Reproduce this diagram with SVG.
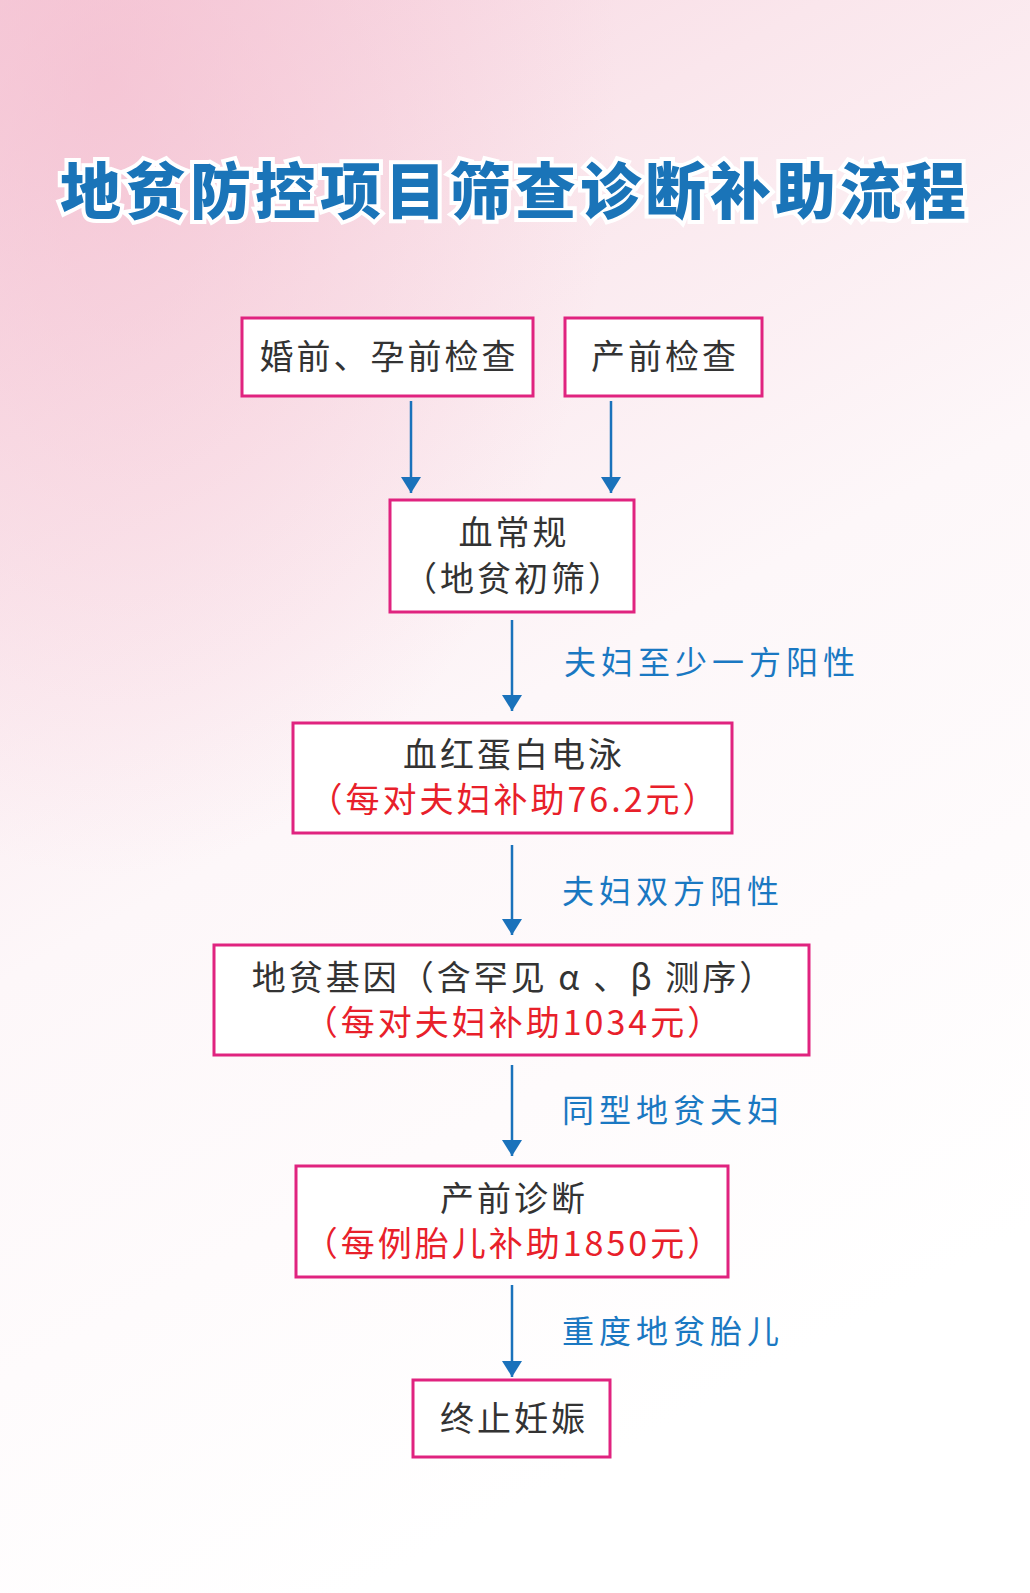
<svg xmlns="http://www.w3.org/2000/svg" width="1030" height="1593" viewBox="0 0 1030 1593">
<defs>
<linearGradient id="bg" x1="0" y1="0" x2="0.35" y2="1">
<stop offset="0" stop-color="#f7d3df"/>
<stop offset="0.25" stop-color="#fae6ec"/>
<stop offset="0.55" stop-color="#fdf7f9"/>
<stop offset="1" stop-color="#ffffff"/>
</linearGradient>
<radialGradient id="glow" cx="0.1" cy="0.05" r="0.5">
<stop offset="0" stop-color="#f3b9cc" stop-opacity="0.6"/>
<stop offset="1" stop-color="#f3b9cc" stop-opacity="0"/>
</radialGradient>
<marker id="ah" markerWidth="16" markerHeight="20" refX="16" refY="10" orient="auto" markerUnits="userSpaceOnUse" viewBox="0 0 16 20">
<path d="M0,0 L16,10 L0,20 Z" fill="#1a72bb"/>
</marker>
</defs>
<style>
.box{fill:#fff;stroke:#e0237f;stroke-width:3}
.t{font-family:"Noto Sans CJK SC","Noto Sans",sans-serif;font-size:34px;fill:#333;text-anchor:middle;letter-spacing:3px}
.r{fill:#e8202a}
.lbl{font-family:"Noto Sans CJK SC","Noto Sans",sans-serif;font-size:32px;fill:#1a78c2;letter-spacing:5px}
.c{stroke:#1a72bb;stroke-width:2.5;fill:none;marker-end:url(#ah)}
</style>
<rect width="1030" height="1593" fill="url(#bg)"/>
<rect width="1030" height="1593" fill="url(#glow)"/>
<text x="515" y="214" font-family="'Noto Sans CJK SC',sans-serif" font-weight="900" font-size="61" fill="#1a74b8" stroke="#fff" stroke-width="8" paint-order="stroke" text-anchor="middle" letter-spacing="4">地贫防控项目筛查诊断补助流程</text>
<g id="connectors">
<line class="c" x1="411" y1="401" x2="411" y2="493"/>
<line class="c" x1="611" y1="401" x2="611" y2="493"/>
<line class="c" x1="512" y1="620" x2="512" y2="711"/>
<line class="c" x1="512" y1="845" x2="512" y2="935"/>
<line class="c" x1="512" y1="1065" x2="512" y2="1156"/>
<line class="c" x1="512" y1="1285" x2="512" y2="1377"/>
<text class="lbl" x="564" y="674">夫妇至少一方阳性</text>
<text class="lbl" x="562" y="903">夫妇双方阳性</text>
<text class="lbl" x="562" y="1122">同型地贫夫妇</text>
<text class="lbl" x="562" y="1343">重度地贫胎儿</text>
</g>
<g id="n1"><rect class="box" x="242" y="318" width="291" height="78"/><text class="t" x="389" y="369">婚前、孕前检查</text></g>
<g id="n2"><rect class="box" x="565" y="318" width="197" height="78"/><text class="t" x="665" y="369">产前检查</text></g>
<g id="n3"><rect class="box" x="390" y="500" width="244" height="112"/><text class="t" x="514" y="545">血常规</text><text class="t" x="514" y="591">（地贫初筛）</text></g>
<g id="n4"><rect class="box" x="293" y="723" width="439" height="110"/><text class="t" x="514" y="767">血红蛋白电泳</text><text class="t r" x="514" y="812">（每对夫妇补助76.2元）</text></g>
<g id="n5"><rect class="box" x="214" y="945" width="595" height="110"/><text class="t" x="514" y="990">地贫基因（含罕见 α 、β 测序）</text><text class="t r" x="514" y="1035">（每对夫妇补助1034元）</text></g>
<g id="n6"><rect class="box" x="296" y="1166" width="432" height="111"/><text class="t" x="514" y="1211">产前诊断</text><text class="t r" x="514" y="1256">（每例胎儿补助1850元）</text></g>
<g id="n7"><rect class="box" x="413" y="1380" width="197" height="77"/><text class="t" x="514" y="1431">终止妊娠</text></g>
</svg>
